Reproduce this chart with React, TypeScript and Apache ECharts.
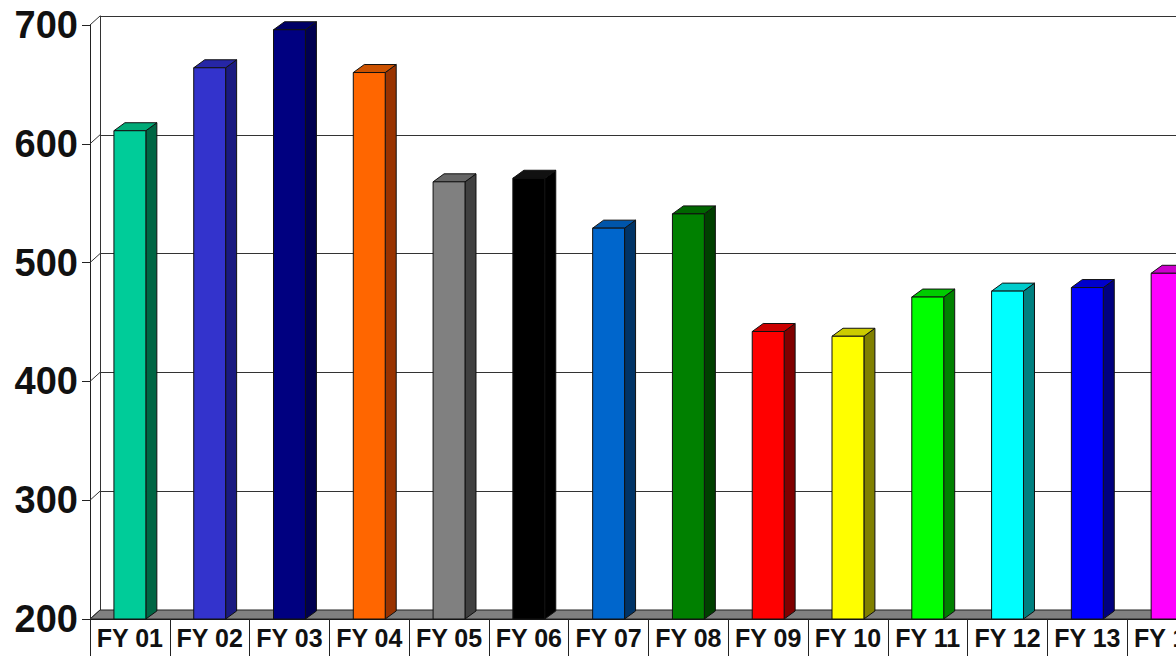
import React, { useEffect, useRef } from "react";
import * as echarts from "echarts";

const categories = ["FY 01", "FY 02", "FY 03", "FY 04", "FY 05", "FY 06", "FY 07", "FY 08", "FY 09", "FY 10", "FY 11", "FY 12", "FY 13", "FY 14"];
const values = [611, 664, 696, 660, 568, 571, 529, 541, 442, 438, 471, 476, 479, 491];
const yTicks = [200, 300, 400, 500, 600, 700];
const frontColors = ["#00CC99", "#3333CC", "#000080", "#FF6600", "#808080", "#000000", "#0066CC", "#008000", "#FF0000", "#FFFF00", "#00FF00", "#00FFFF", "#0000FF", "#FF00FF"];
const sideColors = ["#006644", "#1A1A80", "#000050", "#993300", "#404040", "#000000", "#003366", "#004000", "#800000", "#808000", "#008000", "#008080", "#000080", "#800080"];
const topColors = ["#00AA77", "#2626A6", "#000066", "#CC5200", "#666666", "#111111", "#0055AA", "#006600", "#CC0000", "#CCCC00", "#00CC00", "#00CCCC", "#0000CC", "#CC00CC"];

const Y_MIN = 200;
const Y_MAX = 700;

export default function App() {
  const ref = useRef<HTMLDivElement>(null);
  useEffect(() => {
    if (!ref.current) return;
    document.documentElement.style.overflow = "hidden";
    document.body.style.overflow = "hidden";
    const chart = echarts.init(ref.current, undefined, { renderer: "svg" });
    const font = "'Liberation Sans', Arial, sans-serif";
    const option: any = {
      animation: false,
      backgroundColor: "#ffffff",
      grid: [
        { left: 90, top: 25, bottom: 37, right: 3 },
        { left: 100, top: 16, bottom: 46, right: 0 },
      ],
      xAxis: [
        {
          type: "category",
          gridIndex: 0,
          data: categories,
          axisLine: { show: true, lineStyle: { color: "#111", width: 1 } },
          axisTick: { show: true, length: 40, interval: 0, lineStyle: { color: "#222", width: 1 } },
          axisLabel: {
            interval: 0,
            margin: 6,
            fontFamily: font,
            fontWeight: "bold",
            fontSize: 25,
            color: "#111",
          },
          splitLine: { show: false },
        },
        {
          type: "category",
          gridIndex: 1,
          data: categories,
          show: false,
        },
      ],
      yAxis: [
        {
          type: "value",
          gridIndex: 0,
          min: Y_MIN,
          max: Y_MAX,
          interval: 100,
          axisLine: { show: true, lineStyle: { color: "#222", width: 1 } },
          axisTick: { show: true, length: 8, lineStyle: { color: "#222", width: 1 } },
          axisLabel: {
            margin: 12,
            fontFamily: font,
            fontWeight: "bold",
            fontSize: 38,
            color: "#111",
          },
          splitLine: { show: false },
        },
        {
          type: "value",
          gridIndex: 1,
          min: Y_MIN,
          max: Y_MAX,
          interval: 100,
          axisLine: { show: true, lineStyle: { color: "#333", width: 1 } },
          axisTick: { show: false },
          axisLabel: { show: false },
          splitLine: { show: true, lineStyle: { color: "#333", width: 1 } },
        },
      ],
      series: [
        {
          type: "custom",
          name: "floor",
          xAxisIndex: 0,
          yAxisIndex: 0,
          z: 1,
          data: [[0, Y_MIN]],
          renderItem: (params: any, api: any) => {
            const cs = params.coordSys;
            const y = api.coord([0, Y_MIN])[1];
            const x0 = cs.x;
            const x1 = cs.x + cs.width;
            return {
              type: "polygon",
              shape: { points: [[x0, y], [x1, y], [x1 + 10, y - 9], [x0 + 10, y - 9]] },
              style: { fill: "#808080", stroke: "#222", lineWidth: 1 },
            };
          },
        },
        {
          type: "custom",
          name: "walls",
          xAxisIndex: 0,
          yAxisIndex: 0,
          z: 2,
          data: yTicks.map((v) => [0, v]),
          renderItem: (params: any, api: any) => {
            const cs = params.coordSys;
            const y = api.coord([0, api.value(1)])[1];
            return {
              type: "line",
              shape: { x1: cs.x, y1: y, x2: cs.x + 10, y2: y - 9 },
              style: { stroke: "#333", lineWidth: 1 },
            };
          },
        },
        {
          type: "custom",
          name: "bars",
          xAxisIndex: 0,
          yAxisIndex: 0,
          z: 3,
          encode: { x: 0, y: 1 },
          data: values.map((v, i) => [i, v]),
          renderItem: (params: any, api: any) => {
            const i = api.value(0);
            const v = api.value(1);
            const top = api.coord([i, v]);
            const base = api.coord([i, Y_MIN]);
            const w = api.size([1, 0])[0] * 0.4;
            const x0 = top[0] - w / 2;
            const x1 = top[0] + w / 2;
            const yT = top[1];
            const yB = base[1];
            const dx = 11;
            const dy = -8;
            const idx = params.dataIndex;
            const stroke = "#111";
            return {
              type: "group",
              children: [
                {
                  type: "polygon",
                  shape: { points: [[x1, yT], [x1 + dx, yT + dy], [x1 + dx, yB + dy], [x1, yB]] },
                  style: { fill: sideColors[idx], stroke, lineWidth: 1 },
                },
                {
                  type: "polygon",
                  shape: { points: [[x0, yT], [x0 + dx, yT + dy], [x1 + dx, yT + dy], [x1, yT]] },
                  style: { fill: topColors[idx], stroke, lineWidth: 1 },
                },
                {
                  type: "polygon",
                  shape: { points: [[x0, yT], [x1, yT], [x1, yB], [x0, yB]] },
                  style: { fill: frontColors[idx], stroke, lineWidth: 1 },
                },
              ],
            };
          },
        },
      ],
    };
    chart.setOption(option);
    return () => chart.dispose();
  }, []);
  return (
    <div
      ref={ref}
      style={{ position: "fixed", left: 0, top: 0, width: 1210, height: 656, overflow: "hidden", background: "#fff" }}
    />
  );
}
